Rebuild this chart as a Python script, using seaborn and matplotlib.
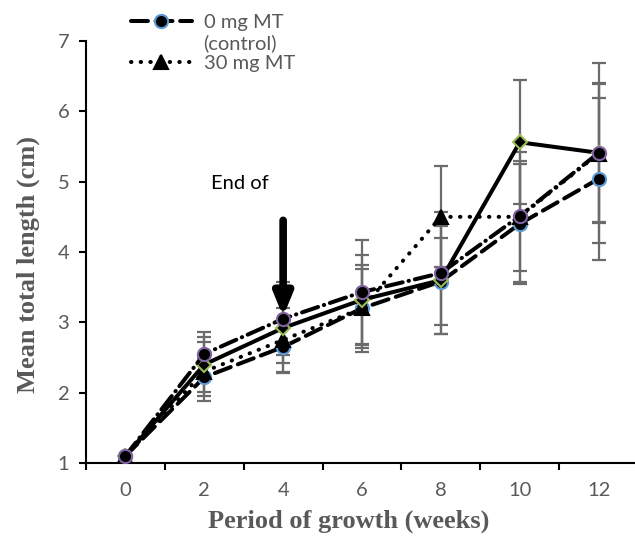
import matplotlib
matplotlib.use("Agg")
import matplotlib.pyplot as plt
from matplotlib.lines import Line2D
import seaborn as sns
import numpy as np

# Sampling weeks and mean total length (cm) per treatment
weeks = [0, 2, 4, 6, 8, 10, 12]
control_mean = [1.10, 2.22, 2.65, 3.20, 3.58, 4.40, 5.04]
control_err = [0.0, 0.27, 0.37, 0.62, 0.62, 0.85, 1.15]
mt30_mean = [1.10, 2.30, 2.75, 3.20, 4.50, 4.50, 5.40]
mt30_err = [0.0, 0.42, 0.45, 0.56, 0.72, 0.92, 0.99]
solid_mean = [1.10, 2.40, 2.92, 3.32, 3.60, 5.56, 5.41]
solid_err = [0.0, 0.39, 0.50, 0.64, 0.77, 0.88, 0.99]
dashdot_mean = [1.10, 2.55, 3.05, 3.43, 3.70, 4.51, 5.41]
dashdot_err = [0.0, 0.31, 0.52, 0.74, 0.87, 0.78, 1.28]

legend_labels = ["0 mg MT", "(control)", "30 mg MT"]
xlabel = "Period of growth (weeks)"
ylabel = "Mean total length (cm)"
note = "End of"

sns.set_theme(style="white")
plt.rcParams["font.family"] = ["Lato", "DejaVu Sans"]

fig = plt.figure(figsize=(6.35, 5.39), dpi=100)
W, H = 635, 539
ax = fig.add_axes([86 / W, (H - 463) / H, (638 - 86) / W, (463 - 41) / H])

idx = np.arange(len(weeks))
err_color = "#6b6b6b"

series = [
    (control_mean, control_err, "o", "#5b9bd5", (0, (4.2, 1.9)), 9.5),
    (mt30_mean, mt30_err, "^", "black", (0, (0.1, 2.3)), 9.5),
    (solid_mean, solid_err, "D", "#9bbb59", "solid", 7.5),
    (dashdot_mean, dashdot_err, "o", "#8064a2", (0, (4.2, 1.5, 0.1, 1.5)), 9.5),
]

# error bars sit underneath the lines
for mean, err, *_ in series:
    ax.errorbar(idx, mean, yerr=err, fmt="none", ecolor=err_color,
                elinewidth=1.6, capsize=5, capthick=1.6, zorder=1)

handles = []
for mean, err, mk, edge, ls, ms in series:
    sns.lineplot(x=idx, y=mean, ax=ax, color="black", linewidth=2.9,
                 marker=mk, markersize=ms, markerfacecolor="black",
                 markeredgecolor=edge, markeredgewidth=1.5, zorder=3)
    line = ax.lines[-1]
    line.set_linestyle(ls)
    line.set_dash_capstyle("round")
    line.set_solid_capstyle("round")
    handles.append(line)

ax.set_xlim(-0.5, 6.5)
ax.set_ylim(1, 7)
ax.set_yticks(range(1, 8))
ax.set_xticks(idx)
ax.set_xticklabels([str(w) for w in weeks])
ax.set_xticks(np.arange(-0.5, 6.6, 1.0), minor=True)
ax.tick_params(axis="x", which="major", length=0, pad=14,
               labelsize=14.5, labelcolor="#595959")
ax.tick_params(axis="x", which="minor", length=5, width=1.5,
               direction="out", color="black", bottom=True)
ax.tick_params(axis="y", length=5, width=1.5, direction="out",
               color="black", left=True, labelsize=14.5,
               labelcolor="#595959", pad=7)

for side in ["top", "right"]:
    ax.spines[side].set_visible(False)
for side in ["left", "bottom"]:
    ax.spines[side].set_color("black")
    ax.spines[side].set_linewidth(1.5)
ax.grid(False)

ax.set_xlabel(xlabel, fontsize=19, fontweight="bold", color="#595959",
              family="Liberation Serif")
ax.set_ylabel(ylabel, fontsize=19, fontweight="bold", color="#595959",
              family="Liberation Serif")
ax.xaxis.set_label_coords(0.475, -0.137)
ax.yaxis.set_label_coords(-0.105, 0.47)
ax.xaxis.label.set_va("center")
ax.yaxis.label.set_va("center")

ax.annotate("", xy=(2, 3.08), xytext=(2, 4.45),
            arrowprops=dict(arrowstyle="-|>,head_width=0.45,head_length=1.1",
                            lw=5.5, color="black", shrinkA=0, shrinkB=0),
            zorder=4)
ax.text(1.45, 4.97, note, fontsize=14.5, color="black", ha="center",
        va="center")

# legend: the note "(control)" sits on its own row without a key
blank = Line2D([], [], linestyle="none", marker="none")
leg = fig.legend([handles[0], blank, handles[1]], legend_labels,
                 loc="upper left", bbox_to_anchor=(113 / W, 1.0 + 4 / H),
                 frameon=False, fontsize=14.5, handlelength=3.0,
                 handletextpad=0.6, labelspacing=0.15,
                 labelcolor="#595959")

fig.savefig("out.png", dpi=100)
